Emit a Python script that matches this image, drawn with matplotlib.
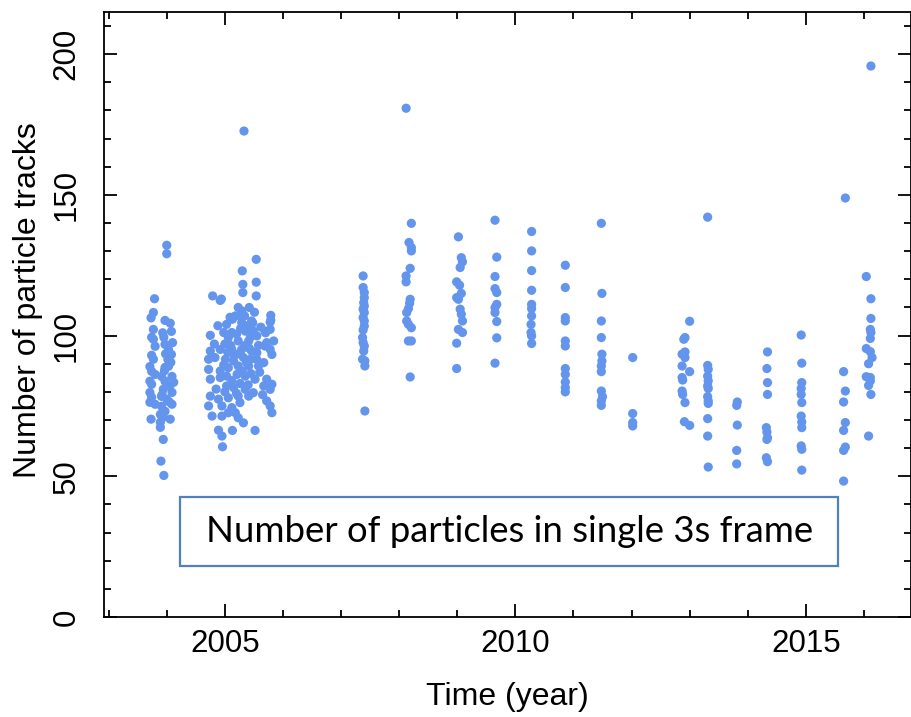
import matplotlib
matplotlib.use("Agg")
import matplotlib.pyplot as plt
from matplotlib.ticker import MultipleLocator
from matplotlib.patches import Rectangle

# ---------------- data (year, number of particle tracks) ----------------
g2004_year = [2004.00, 2004.00, 2003.79, 2003.77, 2003.73, 2003.97, 2004.06, 2004.08, 2003.77, 2003.74,
              2003.77, 2003.80, 2003.95, 2003.97, 2004.03, 2004.08, 2003.74, 2003.77, 2004.07, 2004.03,
              2003.97, 2003.71, 2003.74, 2003.80, 2003.91, 2004.09, 2003.97, 2004.12, 2003.71, 2003.74,
              2003.94, 2004.09, 2003.71, 2003.74, 2003.91, 2004.00, 2003.71, 2003.80, 2004.09, 2003.91,
              2003.97, 2003.89, 2003.94, 2004.06, 2003.73, 2003.89, 2003.89, 2003.94, 2003.90, 2003.95,
              2004.02, 2003.96, 2004.05, 2003.92, 2004.04, 2003.98, 2004.10, 2003.93]
g2004_count = [132.1, 129.1, 113.1, 108.2, 106.3, 105.4, 104.4, 101.5, 102.2, 99.4,
               98.7, 96.2, 99.4, 96.9, 95.1, 93.3, 93.0, 91.6, 90.5, 89.1,
               88.7, 89.0, 87.3, 86.2, 85.5, 85.5, 83.8, 83.4, 83.8, 82.7,
               80.9, 79.8, 79.8, 78.1, 78.4, 77.4, 76.3, 75.6, 75.6, 74.9,
               73.1, 72.0, 71.0, 70.3, 70.3, 69.2, 67.4, 63.1, 55.4, 50.3,
               91.5, 87.5, 82.0, 79.0, 76.5, 93.5, 97.5, 101.0]

g2005_year = [2005.33, 2005.54, 2005.30, 2005.54, 2005.31, 2005.31, 2005.54, 2004.79, 2004.92, 2004.94,
              2005.23, 2005.42, 2005.51, 2005.79, 2005.27, 2005.34, 2005.13, 2005.79, 2004.75,
              2005.29, 2005.18, 2005.46, 2005.78, 2005.78, 2005.03, 2005.29, 2004.98, 2005.12, 2005.06,
              2005.35, 2005.49, 2005.69, 2005.70, 2005.23, 2005.41, 2005.55, 2005.72, 2005.84,
              2004.75, 2004.92, 2005.12, 2005.29, 2005.46, 2005.55, 2005.69, 2005.78, 2005.81,
              2004.72, 2004.83, 2005.01, 2005.15, 2005.32, 2005.44, 2005.67,
              2004.72, 2004.92, 2005.06, 2005.23, 2005.41, 2005.58,
              2004.75, 2004.92, 2005.03, 2005.21, 2005.35, 2005.52, 2005.72, 2005.81,
              2005.03, 2005.15, 2005.35, 2005.49, 2005.67, 2005.78,
              2004.75, 2004.89, 2005.06, 2005.23, 2005.41, 2005.72, 2005.78,
              2004.72, 2004.95, 2005.12, 2005.18, 2005.26,
              2004.78, 2004.95, 2005.06, 2005.23, 2005.32,
              2004.89, 2004.95, 2005.13, 2005.52, 2004.96, 2005.81,
              2005.00, 2005.10, 2005.20, 2005.27, 2005.38, 2005.44, 2005.16, 2005.24, 2005.37, 2005.05,
              2004.98, 2005.30, 2005.45, 2005.12, 2005.26, 2005.40, 2005.00, 2005.20, 2004.85, 2004.82,
              2005.58, 2005.62, 2005.60, 2005.65, 2005.35, 2005.48, 2005.09, 2004.88, 2005.55, 2005.42]
g2005_count = [172.7, 127.1, 123.0, 119.0, 118.2, 115.3, 114.1, 114.1, 112.5, 113.0,
               110.0, 110.0, 108.3, 107.2, 107.0, 107.0, 105.8, 105.5, 100.1,
               108.8, 107.0, 105.2, 104.8, 102.2, 104.0, 104.6, 101.1, 101.1, 99.3,
               101.6, 101.6, 101.6, 101.0, 98.1, 98.1, 99.9, 97.5, 98.1,
               94.5, 95.1, 95.1, 95.1, 94.5, 93.9, 96.3, 95.1, 93.3,
               91.6, 92.2, 91.6, 91.0, 92.2, 91.6, 90.4,
               88.0, 87.4, 88.6, 89.2, 89.2, 89.2,
               84.5, 85.1, 85.6, 86.2, 85.6, 84.5, 84.5, 82.7,
               82.1, 81.5, 80.9, 79.7, 82.1, 80.9,
               78.5, 77.4, 77.9, 78.5, 78.5, 76.8, 75.0,
               75.0, 75.0, 74.4, 72.6, 76.2,
               71.4, 71.4, 72.6, 70.8, 69.0,
               66.4, 64.3, 66.3, 66.3, 60.5, 72.6,
               97.0, 96.5, 100.5, 102.5, 103.5, 99.5, 93.0, 93.5, 90.5, 94.0,
               89.5, 87.5, 86.5, 84.0, 83.0, 82.5, 80.0, 79.5, 81.0, 97.0,
               96.5, 103.0, 87.0, 79.0, 96.5, 104.5, 106.5, 103.5, 91.5, 95.5]

g2007_year = [2007.38, 2007.38, 2007.40, 2007.40, 2007.39, 2007.40, 2007.38, 2007.40, 2007.38, 2007.40,
              2007.40, 2007.38, 2007.37, 2007.38, 2007.40, 2007.39, 2007.37, 2007.41, 2007.41, 2007.41]
g2007_count = [121.2, 117.1, 115.3, 113.5, 111.7, 110.5, 109.4, 108.2, 106.4, 105.2,
               103.4, 102.0, 99.3, 97.5, 96.3, 94.5, 91.6, 91.0, 89.2, 73.2]

g2008_year = [2008.12, 2008.21, 2008.17, 2008.21, 2008.21, 2008.19, 2008.12, 2008.12, 2008.19, 2008.18,
              2008.16, 2008.13, 2008.13, 2008.16, 2008.21, 2008.16, 2008.21, 2008.19]
g2008_count = [180.8, 139.9, 133.1, 131.3, 130.1, 123.9, 121.2, 119.1, 112.9, 111.5,
               109.6, 108.2, 105.2, 104.0, 102.8, 98.1, 98.1, 85.3]

g2009a_year = [2009.02, 2009.07, 2009.09, 2009.05, 2008.99, 2009.04, 2009.07, 2008.99, 2009.02, 2009.05,
               2009.07, 2009.09, 2009.02, 2009.09, 2008.99, 2008.99]
g2009a_count = [135.1, 127.7, 126.2, 124.2, 119.1, 117.9, 115.0, 113.5, 112.9, 109.4,
                107.6, 105.2, 102.2, 101.1, 97.3, 88.3]

g2009b_year = [2009.65, 2009.68, 2009.65, 2009.65, 2009.68, 2009.68, 2009.65, 2009.65, 2009.68, 2009.68, 2009.65]
g2009b_count = [141.0, 127.9, 121.0, 116.7, 115.3, 111.1, 110.0, 108.2, 105.0, 99.2, 90.2]

g2010a_year = [2010.28, 2010.28, 2010.28, 2010.28, 2010.28, 2010.28, 2010.28, 2010.27, 2010.27, 2010.28, 2010.28]
g2010a_count = [137.0, 130.1, 123.1, 116.1, 111.1, 109.6, 107.0, 104.0, 101.1, 99.9, 97.2]

g2010b_year = [2010.86] * 11
g2010b_count = [125.0, 117.1, 106.4, 105.2, 98.1, 96.3, 88.3, 86.2, 83.5, 81.5, 80.0]

g2011_year = [2011.48, 2011.49, 2011.48, 2011.48, 2011.49, 2011.49, 2011.48, 2011.48, 2011.48, 2011.50, 2011.48, 2011.48]
g2011_count = [139.9, 115.0, 105.2, 99.3, 93.4, 91.0, 89.2, 87.2, 80.3, 78.3, 76.8, 75.2]

g2012_year = [2012.02] * 4
g2012_count = [92.2, 72.3, 69.1, 67.9]

g2013a_year = [2013.00, 2012.90, 2012.92, 2012.87, 2012.92, 2012.92, 2012.87, 2013.00, 2012.87, 2012.88,
               2012.87, 2012.88, 2012.92, 2012.91, 2013.00]
g2013a_count = [105.1, 98.7, 99.3, 93.4, 94.2, 92.2, 89.2, 87.2, 85.1, 84.2,
                80.3, 79.1, 76.2, 69.4, 68.1]

g2013b_year = [2013.31, 2013.31, 2013.32, 2013.31, 2013.32, 2013.31, 2013.32, 2013.31, 2013.32, 2013.32,
               2013.31, 2013.31, 2013.32]
g2013b_count = [142.1, 89.4, 88.0, 85.6, 83.9, 82.1, 81.2, 78.3, 76.8, 75.9, 70.5, 64.3, 53.3]

g2013c_year = [2013.82, 2013.81, 2013.82, 2013.81, 2013.81]
g2013c_count = [76.4, 75.2, 68.2, 59.2, 54.4]

g2014a_year = [2014.34, 2014.33, 2014.34, 2014.34, 2014.32, 2014.33, 2014.34, 2014.33, 2014.32, 2014.34]
g2014a_count = [94.2, 88.3, 83.3, 79.1, 67.3, 65.7, 63.7, 63.1, 56.6, 55.2]

g2014b_year = [2014.92, 2014.93, 2014.93, 2014.92, 2014.92, 2014.93, 2014.92, 2014.93, 2014.93, 2014.92, 2014.93, 2014.93]
g2014b_count = [100.2, 90.2, 83.3, 81.2, 79.1, 76.2, 71.4, 69.3, 67.3, 60.8, 59.6, 52.2]

g2015_year = [2015.68, 2015.65, 2015.68, 2015.65, 2015.68, 2015.65, 2015.68, 2015.65, 2015.65]
g2015_count = [148.9, 87.2, 80.3, 76.4, 69.1, 66.3, 60.4, 59.2, 48.3]

g2016_year = [2016.12, 2016.04, 2016.12, 2016.12, 2016.11, 2016.12, 2016.11, 2016.04, 2016.11, 2016.14,
              2016.08, 2016.04, 2016.11, 2016.11, 2016.08, 2016.12, 2016.08]
g2016_count = [195.8, 121.0, 113.1, 106.1, 102.2, 101.1, 99.0, 95.4, 94.3, 92.2,
               90.0, 85.4, 85.1, 83.9, 82.3, 79.1, 64.3]

groups = [
    (g2004_year, g2004_count), (g2005_year, g2005_count), (g2007_year, g2007_count),
    (g2008_year, g2008_count), (g2009a_year, g2009a_count), (g2009b_year, g2009b_count),
    (g2010a_year, g2010a_count), (g2010b_year, g2010b_count), (g2011_year, g2011_count),
    (g2012_year, g2012_count), (g2013a_year, g2013a_count), (g2013b_year, g2013b_count),
    (g2013c_year, g2013c_count), (g2014a_year, g2014a_count), (g2014b_year, g2014b_count),
    (g2015_year, g2015_count), (g2016_year, g2016_count),
]

x_ticks = [2005, 2010, 2015]
y_ticks = [0, 50, 100, 150, 200]
x_label = "Time (year)"
y_label = "Number of particle tracks"
box_text = "Number of particles in single 3s frame"

# ---------------- figure ----------------
plt.rcParams['font.family'] = ['Liberation Sans', 'DejaVu Sans']
fig = plt.figure(figsize=(9.12, 7.17), dpi=100)
ax = fig.add_axes([104/912, 100/717, 807/912, 605/717])

for yrs, cnt in groups:
    ax.scatter(yrs, cnt, s=44, color='#6495ED', edgecolors='none', zorder=3)

ax.set_xlim(2002.92, 2016.81)
ax.set_ylim(0, 215)
ax.set_xticks(x_ticks)
ax.set_yticks(y_ticks)
ax.xaxis.set_minor_locator(MultipleLocator(1))
ax.yaxis.set_minor_locator(MultipleLocator(10))

ax.tick_params(which='both', direction='in', top=True, right=True, width=1.3, colors='black')
ax.tick_params(which='major', length=9.5)
ax.tick_params(which='minor', length=5)
ax.tick_params(axis='x', which='major', labelsize=22.5, pad=9)
ax.tick_params(axis='y', which='major', labelsize=22.5, pad=16, labelrotation=90)
for lab in ax.get_yticklabels():
    lab.set_va('center')

for sp in ax.spines.values():
    sp.set_linewidth(1.3)

ax.set_xlabel(x_label, fontsize=23, labelpad=16)
ax.set_ylabel(y_label, fontsize=23)
ax.yaxis.set_label_coords(-0.075, 0.524)

# annotation box
rect = Rectangle((0.0942, 0.0843), 0.9095 - 0.0942, 0.198 - 0.0843, transform=ax.transAxes,
                 fill=True, facecolor='white', edgecolor='#4F81BD', linewidth=1.6, zorder=4)
ax.add_patch(rect)
ax.text(0.502, 0.141, box_text, transform=ax.transAxes, ha='center', va='center',
        fontsize=26.3, family=['Lato', 'DejaVu Sans'], zorder=5)

fig.savefig("out.png", dpi=100)
